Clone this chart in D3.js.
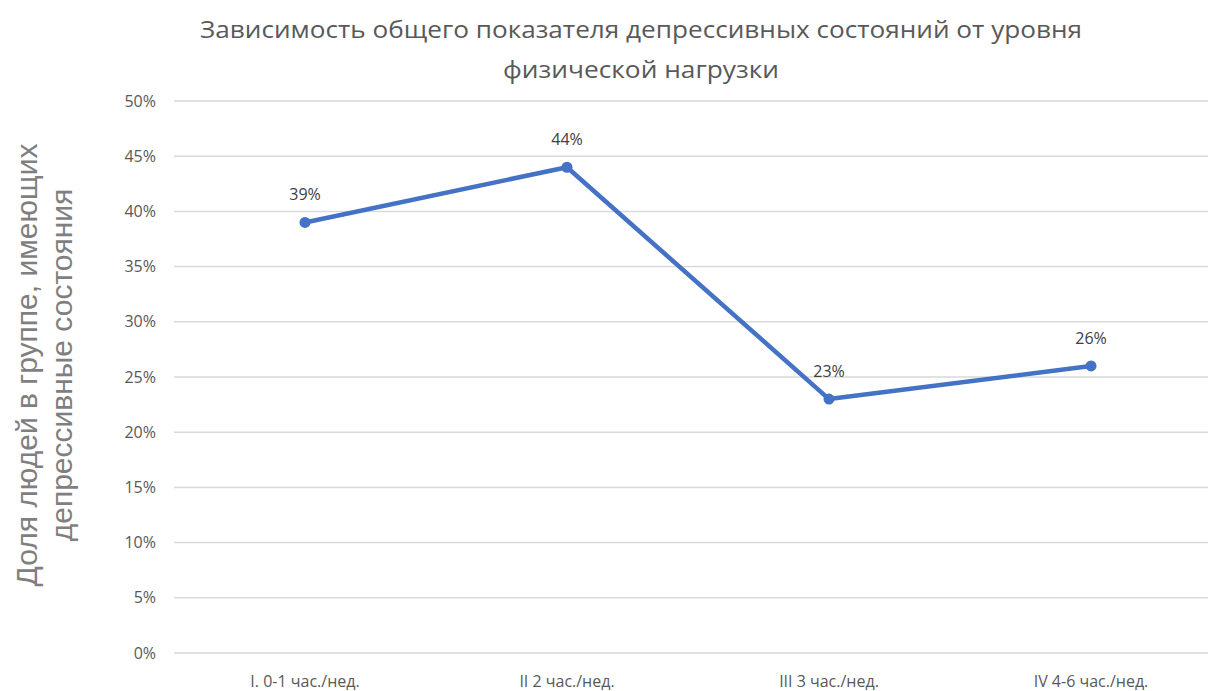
<!DOCTYPE html>
<html>
<head>
<meta charset="utf-8">
<script src="https://cdn.jsdelivr.net/npm/d3@7"></script>
<style>
  body { margin: 0; background: #fff; }
  text { font-family: "Open Sans", "Noto Sans", sans-serif; }
</style>
</head>
<body>
<svg id="chart" width="1208" height="691"></svg>
<script>
// данные
const categories = ["I. 0-1 час./нед.", "II 2 час./нед.", "III 3 час./нед.", "IV 4-6 час./нед."];
const values = [0.39, 0.44, 0.23, 0.26];
const yTicks = [0, 0.05, 0.10, 0.15, 0.20, 0.25, 0.30, 0.35, 0.40, 0.45, 0.50];
const titleLines = ["Зависимость общего показателя депрессивных состояний от уровня", "физической нагрузки"];
const yTitleLines = ["Доля людей в группе, имеющих", "депрессивные состояния"];

const svg = d3.select("#chart");

const x = d3.scaleBand().domain(categories).range([174, 1222]);
const y = d3.scaleLinear().domain([0, 0.5]).range([653, 101]);
const pct = d3.format(".0%");

// сетка
svg.append("g")
    .selectAll("line")
    .data(yTicks)
    .join("line")
    .attr("x1", 174)
    .attr("x2", 1208)
    .attr("y1", d => y(d))
    .attr("y2", d => y(d))
    .style("stroke", "#d9d9d9")
    .style("stroke-width", 1.5);

// подписи оси Y
svg.append("g")
    .selectAll("text")
    .data(yTicks)
    .join("text")
    .attr("x", 156)
    .attr("y", d => y(d))
    .attr("dy", "0.35em")
    .attr("text-anchor", "end")
    .style("font-size", "16px")
    .style("fill", "#595959")
    .text(pct);

// подписи оси X
svg.append("g")
    .selectAll("text")
    .data(categories)
    .join("text")
    .attr("x", d => x(d) + x.bandwidth() / 2)
    .attr("y", 681)
    .attr("dy", "0.35em")
    .attr("text-anchor", "middle")
    .style("font-size", "16px")
    .style("fill", "#595959")
    .text(d => d);

// линия
const pts = categories.map((c, i) => [x(c) + x.bandwidth() / 2, y(values[i])]);

svg.append("path")
    .attr("d", d3.line()(pts))
    .style("fill", "none")
    .style("stroke", "#4472c4")
    .style("stroke-width", 4.5)
    .style("stroke-linejoin", "round");

svg.append("g")
    .selectAll("circle")
    .data(pts)
    .join("circle")
    .attr("cx", d => d[0])
    .attr("cy", d => d[1])
    .attr("r", 5.5)
    .style("fill", "#4472c4");

// подписи значений
svg.append("g")
    .selectAll("text")
    .data(values)
    .join("text")
    .attr("x", (d, i) => pts[i][0])
    .attr("y", (d, i) => pts[i][1] - 28)
    .attr("dy", "0.35em")
    .attr("text-anchor", "middle")
    .style("font-size", "16px")
    .style("fill", "#404040")
    .text(pct);

// заголовок
svg.append("g")
    .selectAll("text")
    .data(titleLines)
    .join("text")
    .attr("x", 641)
    .attr("y", (d, i) => 30 + i * 40)
    .attr("dy", "0.35em")
    .attr("text-anchor", "middle")
    .style("font-size", "23px")
    .style("fill", "#595959")
    .attr("textLength", (d, i) => i === 0 ? 882 : 276)
    .attr("lengthAdjust", "spacingAndGlyphs")
    .text(d => d);

// заголовок оси Y
svg.append("g")
    .attr("transform", "translate(0,365) rotate(-90)")
    .selectAll("text")
    .data(yTitleLines)
    .join("text")
    .attr("x", 0)
    .attr("y", (d, i) => 26 + i * 35)
    .attr("dy", "0.35em")
    .attr("text-anchor", "middle")
    .style("font-family", "'Liberation Sans', Arial, sans-serif")
    .style("font-size", "30px")
    .style("fill", "#7f7f7f")
    .text(d => d);
</script>
</body>
</html>
